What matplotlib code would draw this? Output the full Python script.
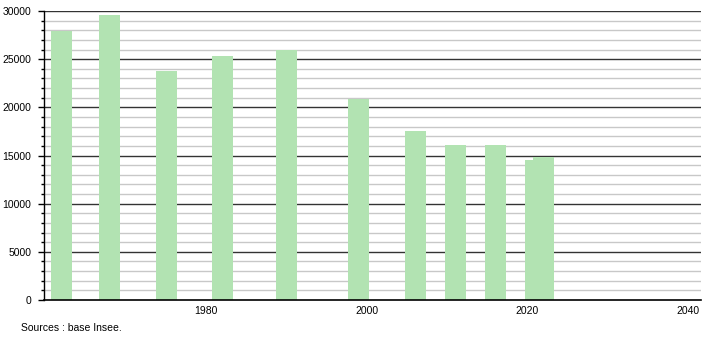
import matplotlib
matplotlib.use("Agg")
import matplotlib.pyplot as plt
from matplotlib.ticker import MultipleLocator

years = [1962, 1968, 1975, 1982, 1990, 1999, 2006, 2011, 2016, 2021, 2022]
population = [27920, 29550, 23820, 25300, 25920, 20880, 17520, 16070, 16070, 14520, 14800]
x_ticks = [1980, 2000, 2020, 2040]
y_ticks = [0, 5000, 10000, 15000, 20000, 25000, 30000]
source_text = "Sources : base Insee."

plt.rcParams['font.family'] = ['Liberation Sans', 'DejaVu Sans']

fig = plt.figure(figsize=(7.1, 3.4), dpi=100)
ax = fig.add_axes([44/710, 1 - 300/340, (701 - 44)/710, (300 - 11)/340])

ax.set_xlim(1959.8, 2041.6)
ax.set_ylim(0, 30000)

# grid lines
for v in range(1000, 30001, 1000):
    if v % 5000 == 0:
        ax.axhline(v, color='#333333', lw=1.0, zorder=1)
    else:
        ax.axhline(v, color='#c8c8c8', lw=1.0, zorder=1)

ax.bar(years, population, width=2.6, color='#b2e3b2', zorder=2, linewidth=0)

ax.set_xticks(x_ticks)
ax.set_xticklabels([str(t) for t in x_ticks])
ax.set_yticks(y_ticks)
ax.set_yticklabels([str(t) for t in y_ticks])
ax.yaxis.set_minor_locator(MultipleLocator(1000))

ax.tick_params(axis='x', length=0, pad=4, labelsize=7.5, colors='#000000')
ax.tick_params(axis='y', which='major', length=4, width=1, pad=5, labelsize=7.5)
ax.tick_params(axis='y', which='minor', length=2, width=1)

for s in ['top', 'right']:
    ax.spines[s].set_visible(False)
ax.spines['left'].set_color('#000000')
ax.spines['bottom'].set_color('#000000')
ax.spines['left'].set_linewidth(1)
ax.spines['bottom'].set_linewidth(1.2)

fig.text(21/710, 1 - 328/340, source_text, fontsize=7.5, va='center', ha='left')

fig.savefig('out.png', dpi=100)
